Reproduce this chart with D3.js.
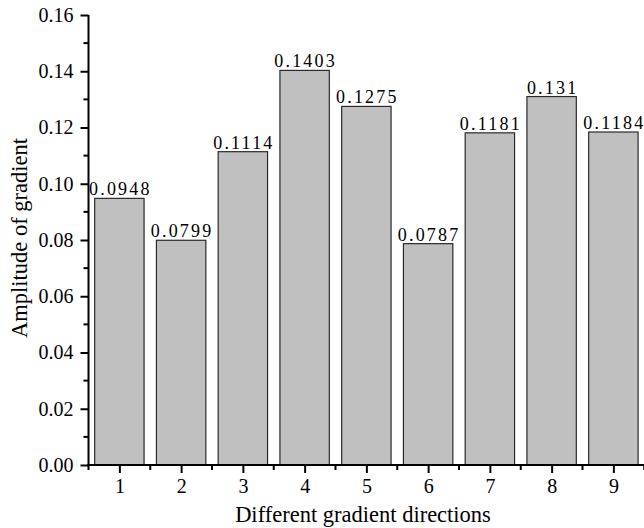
<!DOCTYPE html>
<html>
<head>
<meta charset="utf-8">
<script src="https://d3js.org/d3.v7.min.js"></script>
<style>
  body { margin: 0; background: #fff; }
  svg text { font-family: "Liberation Serif", serif; fill: #000; }
</style>
</head>
<body>
<div id="chart"></div>
<script>
// Chart dimensions
var width  = 644;
var height = 528;
var serif = "'Liberation Serif', serif";

// Data
var directions = [1, 2, 3, 4, 5, 6, 7, 8, 9];
var amplitudes = [0.0948, 0.0799, 0.1114, 0.1403, 0.1275, 0.0787, 0.1181, 0.131, 0.1184];
var barLabels  = ["0.0948", "0.0799", "0.1114", "0.1403", "0.1275", "0.0787", "0.1181", "0.131", "0.1184"];
var yTicks     = [0, 0.02, 0.04, 0.06, 0.08, 0.10, 0.12, 0.14, 0.16];
var yMinor     = [0.01, 0.03, 0.05, 0.07, 0.09, 0.11, 0.13, 0.15];
var xMinor     = [0.5, 1.5, 2.5, 3.5, 4.5, 5.5, 6.5, 7.5, 8.5, 9.5];

var svg = d3.select("#chart").append("svg")
    .attr("width", width)
    .attr("height", height);

// Scales (right edge of plot runs past the window, as in the original)
var x = d3.scaleLinear().domain([0.5, 9.5]).range([88.5, 644.25]);
var y = d3.scaleLinear().domain([0, 0.16]).range([465, 15]);
var barW = (x(2) - x(1)) * 0.8;

// Bars
svg.append("g")
    .selectAll("rect")
    .data(amplitudes)
    .enter()
    .append("rect")
    .attr("x", (d, i) => x(directions[i]) - barW / 2)
    .attr("y", d => y(d))
    .attr("width", barW)
    .attr("height", d => y(0) - y(d))
    .attr("fill", "#c0c0c0")
    .attr("stroke", "#2a2a2a")
    .attr("stroke-width", 1.2);

// Value labels
svg.append("g")
    .selectAll("text")
    .data(amplitudes)
    .enter()
    .append("text")
    .attr("x", (d, i) => x(directions[i]) + 1)
    .attr("y", d => y(d) - 3)
    .attr("text-anchor", "middle")
    .style("font-family", serif)
    .style("font-size", "18px")
    .style("letter-spacing", "2.2px")
    .text((d, i) => barLabels[i]);

// Y axis
var yAxis = d3.axisLeft(y)
    .tickValues(yTicks)
    .tickSize(8)
    .tickPadding(7)
    .tickFormat(d3.format(".2f"));

var gy = svg.append("g")
    .attr("transform", "translate(" + x(0.5) + ",0)")
    .call(yAxis);
gy.attr("font-family", null);
gy.select(".domain").attr("stroke-width", 2).attr("d", "M0," + y(0) + "V" + y(0.16));
gy.selectAll(".tick line").attr("stroke-width", 2);
gy.selectAll("text").style("font-size", "20px").style("font-family", serif);

gy.selectAll(".minor")
    .data(yMinor)
    .enter()
    .append("line")
    .attr("class", "minor")
    .attr("x1", -5).attr("x2", 0)
    .attr("y1", d => y(d)).attr("y2", d => y(d))
    .attr("stroke", "#000")
    .attr("stroke-width", 2);

// X axis
var xAxis = d3.axisBottom(x)
    .tickValues(directions)
    .tickSize(8)
    .tickPadding(6)
    .tickFormat(d3.format("d"));

var gx = svg.append("g")
    .attr("transform", "translate(0," + y(0) + ")")
    .call(xAxis);
gx.attr("font-family", null);
gx.select(".domain").attr("stroke-width", 2).attr("d", "M" + (x(0.5) - 1) + ",0H" + x(9.5));
gx.selectAll(".tick line").attr("stroke-width", 2);
gx.selectAll("text").style("font-size", "20px").style("font-family", serif);

gx.selectAll(".minor")
    .data(xMinor)
    .enter()
    .append("line")
    .attr("class", "minor")
    .attr("x1", d => x(d)).attr("x2", d => x(d))
    .attr("y1", 0).attr("y2", 5)
    .attr("stroke", "#000")
    .attr("stroke-width", 2);

// Axis titles
svg.append("text")
    .attr("x", 363)
    .attr("y", 522)
    .attr("text-anchor", "middle")
    .style("font-family", serif)
    .style("font-size", "22.5px")
    .text("Different gradient directions");

svg.append("text")
    .attr("transform", "translate(27,238)rotate(-90)")
    .attr("text-anchor", "middle")
    .style("font-family", serif)
    .style("font-size", "22.5px")
    .text("Amplitude of gradient");
</script>
</body>
</html>
